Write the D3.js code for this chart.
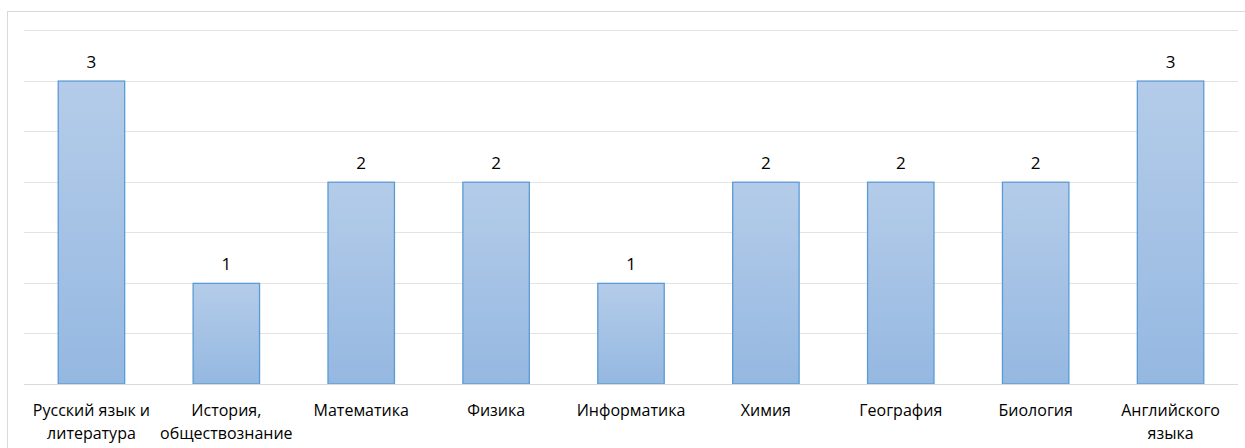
<!DOCTYPE html>
<html>
<head>
<meta charset="utf-8">
<script src="https://cdn.jsdelivr.net/npm/d3@7"></script>
<style>
  body { margin: 0; background: #fff; }
  text { font-family: "Open Sans", "Liberation Sans", sans-serif; fill: #000; }
</style>
</head>
<body>
<div id="chart"></div>
<script>
var subjects = [
  ["Русский язык и", "литература"],
  ["История,", "обществознание"],
  ["Математика"],
  ["Физика"],
  ["Информатика"],
  ["Химия"],
  ["География"],
  ["Биология"],
  ["Английского", "языка"]
];
var counts = [3, 1, 2, 2, 1, 2, 2, 2, 3];
var gridValues = [0.5, 1, 1.5, 2, 2.5, 3, 3.5];

var svgWidth = 1245;
var svgHeight = 448;
var margin = { top: 30, right: 7, bottom: 64, left: 24 };
var width = svgWidth - margin.left - margin.right;
var height = svgHeight - margin.top - margin.bottom;

var svg = d3.select("#chart").append("svg")
  .attr("width", svgWidth)
  .attr("height", svgHeight);

// outer chart border
svg.append("rect")
  .attr("x", 7.5).attr("y", 11.5)
  .attr("width", 1245).attr("height", 460)
  .attr("fill", "none")
  .attr("stroke", "#d9d9d9");

var grad = svg.append("defs").append("linearGradient")
  .attr("id", "barGrad")
  .attr("x1", 0).attr("y1", 0).attr("x2", 0).attr("y2", 1);
grad.append("stop").attr("offset", "0%").attr("stop-color", "#b4cce9");
grad.append("stop").attr("offset", "100%").attr("stop-color", "#95b8e1");

var g = svg.append("g")
  .attr("transform", `translate(${margin.left}, ${margin.top})`);

var xScale = d3.scaleBand()
  .domain(d3.range(subjects.length))
  .range([0, width])
  .paddingInner(0.5)
  .paddingOuter(0.25);

var yScale = d3.scaleLinear()
  .domain([0, 3.5])
  .range([height, 0]);

// gridlines
g.selectAll(".grid")
  .data(gridValues).enter().append("line")
  .attr("class", "grid")
  .attr("x1", 0).attr("x2", width)
  .attr("y1", d => Math.round(yScale(d)) + 0.5)
  .attr("y2", d => Math.round(yScale(d)) + 0.5)
  .attr("stroke", "#e3e3e3");

// bars
g.selectAll(".bar")
  .data(counts).enter().append("rect")
  .attr("class", "bar")
  .attr("x", (d, i) => xScale(i) + 0.5)
  .attr("y", d => yScale(d) + 0.5)
  .attr("width", xScale.bandwidth() - 1)
  .attr("height", d => height - yScale(d) - 0.5)
  .attr("fill", "url(#barGrad)")
  .attr("stroke", "#5b9bd5")
  .attr("stroke-width", 1.3);

// baseline
g.append("line")
  .attr("x1", 0).attr("x2", width)
  .attr("y1", height + 0.5).attr("y2", height + 0.5)
  .attr("stroke", "#d9d9d9");

// value labels
g.selectAll(".val")
  .data(counts).enter().append("text")
  .attr("class", "val")
  .attr("x", (d, i) => xScale(i) + xScale.bandwidth() / 2)
  .attr("y", d => yScale(d) - 13)
  .attr("text-anchor", "middle")
  .style("font-size", "17px")
  .text(d => d);

// category labels
var lab = g.selectAll(".cat")
  .data(subjects).enter().append("text")
  .attr("class", "cat")
  .attr("text-anchor", "middle")
  .style("font-size", "16px")
  .attr("transform", (d, i) => `translate(${xScale(i) + xScale.bandwidth() / 2}, ${height + 32})`);

lab.selectAll("tspan")
  .data(d => d).enter().append("tspan")
  .attr("x", 0)
  .attr("y", (d, i) => i * 23)
  .text(d => d);
</script>
</body>
</html>
